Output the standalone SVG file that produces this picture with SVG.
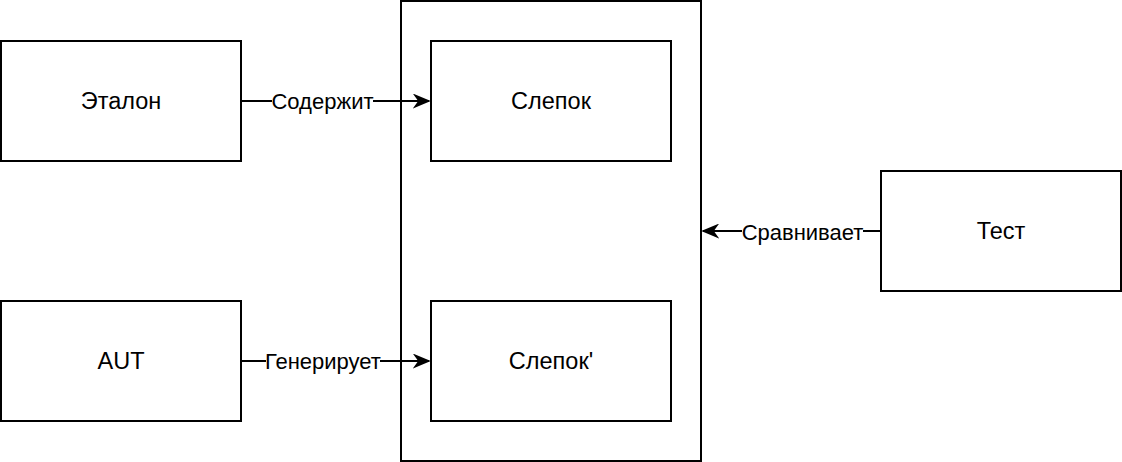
<svg xmlns="http://www.w3.org/2000/svg" width="1122" height="462" viewBox="0 0 1122 462">
<style>
.box{fill:#fff;stroke:#000;stroke-width:2}
.t{font-family:"Liberation Sans",Arial,sans-serif;font-size:23.5px;text-anchor:middle;fill:#000}
.lbl{font-family:"Liberation Sans",Arial,sans-serif;font-size:22px;text-anchor:middle;fill:#000}
.edge{fill:none;stroke:#000;stroke-width:2}
</style>
<defs>
<marker id="arr" viewBox="0 0 10 10" refX="9" refY="5" markerWidth="18" markerHeight="15" markerUnits="userSpaceOnUse" orient="auto" preserveAspectRatio="none">
<path d="M0,0 L10,5 L0,10 L3,5 Z" fill="#000"/>
</marker>
</defs>
<rect width="1122" height="462" fill="#fff"/>
<g id="container"><rect class="box" x="401" y="1" width="300" height="460"/></g>
<g id="etalon"><rect class="box" x="1" y="41" width="240" height="120"/><text class="t" x="121" y="109">Эталон</text></g>
<g id="aut"><rect class="box" x="1" y="301" width="240" height="120"/><text class="t" x="121" y="369">AUT</text></g>
<g id="slepok"><rect class="box" x="431" y="41" width="240" height="120"/><text class="t" x="551" y="109">Слепок</text></g>
<g id="slepok2"><rect class="box" x="431" y="301" width="240" height="120"/><text class="t" x="551" y="369">Слепок'</text></g>
<g id="test"><rect class="box" x="881" y="171" width="240" height="120"/><text class="t" x="1001" y="239">Тест</text></g>
<g id="connectors">
<path class="edge" d="M241,101 L429,101" marker-end="url(#arr)"/>
<path class="edge" d="M241,361 L429,361" marker-end="url(#arr)"/>
<path class="edge" d="M881,231 L703,231" marker-end="url(#arr)"/>
<rect x="272" y="90" width="101" height="22" fill="#fff"/>
<text class="lbl" x="322.5" y="109">Содержит</text>
<rect x="266" y="350" width="114" height="22" fill="#fff"/>
<text class="lbl" x="323" y="369">Генерирует</text>
<rect x="742" y="220" width="121" height="22" fill="#fff"/>
<text class="lbl" x="802.5" y="240">Сравнивает</text>
</g>
</svg>
